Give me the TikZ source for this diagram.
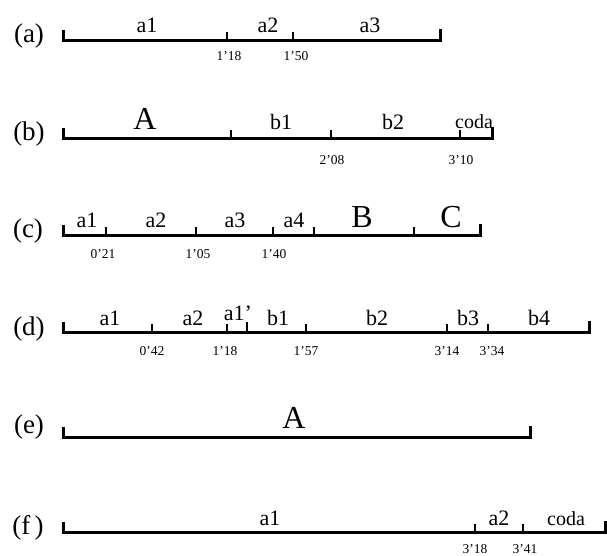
\documentclass[tikz,border=0pt]{standalone}
\usepackage{fontspec}
\setmainfont{Liberation Serif}
\begin{document}
\begin{tikzpicture}[x=1pt,y=-1pt,
  mainline/.style={line width=3pt,line join=miter,line cap=butt},
  tickline/.style={line width=1.1pt},
  plab/.style={font=\fontsize{27}{32}\selectfont,anchor=base,inner sep=0pt},
  seg/.style={font=\fontsize{22}{26}\selectfont,anchor=base,inner sep=0pt},
  big/.style={font=\fontsize{32}{38}\selectfont,anchor=base,inner sep=0pt},
  codal/.style={font=\fontsize{20}{24}\selectfont,anchor=base,inner sep=0pt},
  tlab/.style={font=\fontsize{13.5}{16}\selectfont,anchor=base,inner sep=0pt}]
\useasboundingbox (0,0) rectangle (607,555);
% ---------- (a)
\node[plab] (la) at (29,42) {(a)};
\coordinate (as) at (63,40); \coordinate (ae) at (440,40);
\draw[mainline] ([yshift=10pt]as) -- (as) -- (ae) -- ([yshift=11pt]ae);
\coordinate (at1) at (227,40); \coordinate (at2) at (293,40);
\draw[tickline] (at1) -- ++(0,-8);
\draw[tickline] (at2) -- ++(0,-8);
\node[seg] (aa1) at (147,32) {a1};
\node[seg] (aa2) at (268,32) {a2};
\node[seg] (aa3) at (370,32) {a3};
\node[tlab] (aT1) at (229,60) {1'18};
\node[tlab] (aT2) at (296,60) {1'50};
% ---------- (b)
\node[plab] (lb) at (29,140) {(b)};
\coordinate (bs) at (63,138); \coordinate (be) at (492,138);
\draw[mainline] ([yshift=10pt]bs) -- (bs) -- (be) -- ([yshift=11pt]be);
\coordinate (bt1) at (231,138); \coordinate (bt2) at (331,138); \coordinate (bt3) at (460,138);
\draw[tickline] (bt1) -- ++(0,-8);
\draw[tickline] (bt2) -- ++(0,-8);
\draw[tickline] (bt3) -- ++(0,-8);
\node[big] (bA) at (145,129) {A};
\node[seg] (bb1) at (281,129) {b1};
\node[seg] (bb2) at (393,129) {b2};
\node[codal] (bcoda) at (474,128) {coda};
\node[tlab] (bT1) at (332,164) {2'08};
\node[tlab] (bT2) at (461,164) {3'10};
% ---------- (c)
\node[plab] (lc) at (28,237) {(c)};
\coordinate (cs) at (63,235); \coordinate (ce) at (480,235);
\draw[mainline] ([yshift=10pt]cs) -- (cs) -- (ce) -- ([yshift=11pt]ce);
\coordinate (ct1) at (106,235); \coordinate (ct2) at (196,235); \coordinate (ct3) at (273,235);
\coordinate (ct4) at (314,235); \coordinate (ct5) at (414,235);
\draw[tickline] (ct1) -- ++(0,-8);
\draw[tickline] (ct2) -- ++(0,-8);
\draw[tickline] (ct3) -- ++(0,-8);
\draw[tickline] (ct4) -- ++(0,-8);
\draw[tickline] (ct5) -- ++(0,-8);
\node[seg] (ca1) at (87,227) {a1};
\node[seg] (ca2) at (156,227) {a2};
\node[seg] (ca3) at (235,227) {a3};
\node[seg] (ca4) at (294,227) {a4};
\node[big] (cB) at (362,227) {B};
\node[big] (cC) at (451,227) {C};
\node[tlab] (cT1) at (103,258) {0'21};
\node[tlab] (cT2) at (198,258) {1'05};
\node[tlab] (cT3) at (274,258) {1'40};
% ---------- (d)
\node[plab] (ld) at (29,335) {(d)};
\coordinate (ds) at (63,332); \coordinate (de) at (589,332);
\draw[mainline] ([yshift=10pt]ds) -- (ds) -- (de) -- ([yshift=11pt]de);
\coordinate (dt1) at (152,332); \coordinate (dt2) at (227,332); \coordinate (dt3) at (247,332);
\coordinate (dt4) at (306,332); \coordinate (dt5) at (447,332); \coordinate (dt6) at (488,332);
\draw[tickline] (dt1) -- ++(0,-8);
\draw[tickline] (dt2) -- ++(0,-8);
\draw[tickline] (dt3) -- ++(0,-10);
\draw[tickline] (dt4) -- ++(0,-8);
\draw[tickline] (dt5) -- ++(0,-8);
\draw[tickline] (dt6) -- ++(0,-8);
\node[seg] (da1) at (110,325) {a1};
\node[seg] (da2) at (193,325) {a2};
\node[seg] (da1p) at (238,320) {a1'};
\node[seg] (db1) at (278,325) {b1};
\node[seg] (db2) at (377,325) {b2};
\node[seg] (db3) at (468,325) {b3};
\node[seg] (db4) at (539,325) {b4};
\node[tlab] (dT1) at (152,355) {0'42};
\node[tlab] (dT2) at (225,355) {1'18};
\node[tlab] (dT3) at (306,355) {1'57};
\node[tlab] (dT4) at (447,355) {3'14};
\node[tlab] (dT5) at (492,355) {3'34};
% ---------- (e)
\node[plab] (le) at (29,433) {(e)};
\coordinate (es) at (63,437); \coordinate (ee) at (530,437);
\draw[mainline] ([yshift=10pt]es) -- (es) -- (ee) -- ([yshift=11pt]ee);
\node[big] (eA) at (294,428) {A};
% ---------- (f)
\node[plab] (lf) at (28,534) {(f\,)};
\coordinate (fs) at (63,532); \coordinate (fe) at (605.5,532);
\draw[mainline] ([yshift=10pt]fs) -- (fs) -- (fe) -- ([yshift=11pt]fe);
\coordinate (ft1) at (475,532); \coordinate (ft2) at (523,532);
\draw[tickline] (ft1) -- ++(0,-8);
\draw[tickline] (ft2) -- ++(0,-8);
\node[seg] (fa1) at (270,525) {a1};
\node[seg] (fa2) at (499,525) {a2};
\node[codal] (fcoda) at (566,525) {coda};
\node[tlab] (fT1) at (475,553) {3'18};
\node[tlab] (fT2) at (525,553) {3'41};
\end{tikzpicture}
\end{document}
